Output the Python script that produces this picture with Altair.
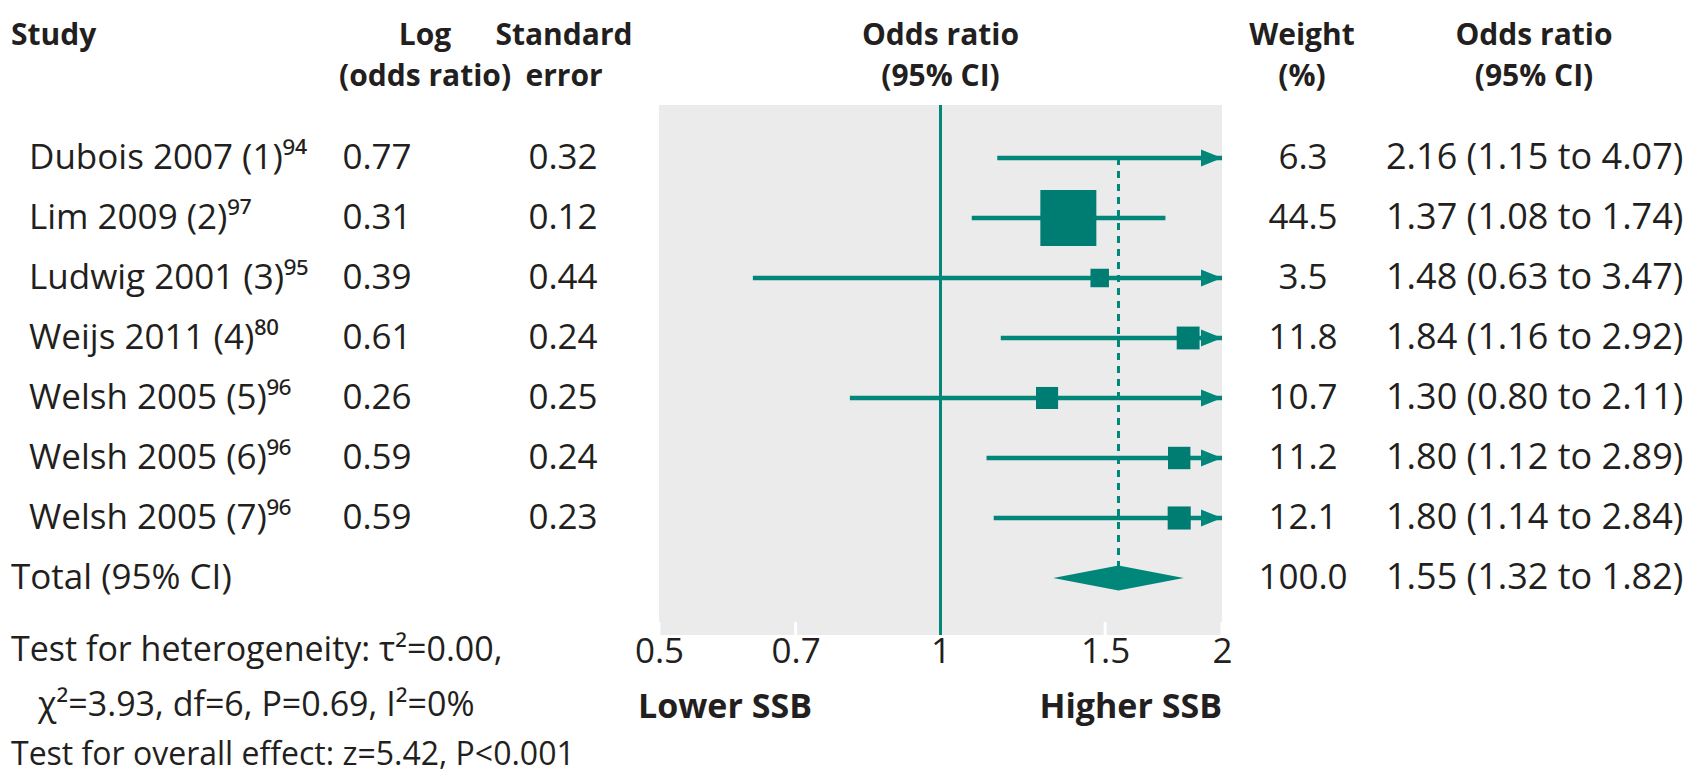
import altair as alt
import pandas as pd

# ---------------- data ----------------
studies = ["Dubois 2007 (1)\u2079\u2074", "Lim 2009 (2)\u2079\u2077", "Ludwig 2001 (3)\u2079\u2075",
           "Weijs 2011 (4)\u2078\u2070", "Welsh 2005 (5)\u2079\u2076", "Welsh 2005 (6)\u2079\u2076",
           "Welsh 2005 (7)\u2079\u2076"]
log_or = [0.77, 0.31, 0.39, 0.61, 0.26, 0.59, 0.59]
std_err = [0.32, 0.12, 0.44, 0.24, 0.25, 0.24, 0.23]
weight = [6.3, 44.5, 3.5, 11.8, 10.7, 11.2, 12.1]
or_est = [2.16, 1.37, 1.48, 1.84, 1.30, 1.80, 1.80]
ci_low = [1.15, 1.08, 0.63, 1.16, 0.80, 1.12, 1.14]
ci_high = [4.07, 1.74, 3.47, 2.92, 2.11, 2.89, 2.84]

total_label = ["Total (95% CI)"]
total_weight = [100.0]
total_est = [1.55]
total_low = [1.32]
total_high = [1.82]

tick_values = [0.5, 0.7, 1, 1.5, 2]
null_value = [1.0]

header_top = ["Study", "Log", "Standard", "Odds ratio", "Weight", "Odds ratio"]
header_bottom = ["", "(odds ratio)", "error", "(95% CI)", "(%)", "(95% CI)"]
footer_lines = ["Test for heterogeneity: \u03c4\u00b2=0.00,",
                "\u03c7\u00b2=3.93, df=6, P=0.69, I\u00b2=0%",
                "Test for overall effect: z=5.42, P<0.001"]
favours = ["Lower SSB", "Higher SSB"]

# ---------------- styling ----------------
FONT = "Open Sans"
TEAL = "#00877a"
SQUARE = "#007d72"
TEXT = "#231f20"
FS = 35
HFS = 30
W, H = 563, 530

n = len(studies)
xmin, xmax = tick_values[0], tick_values[-1]

df = pd.DataFrame({"row": list(range(n)), "study": studies, "log_or": log_or, "se": std_err,
                   "weight": weight, "est": or_est, "lo": ci_low, "hi": ci_high})
df["log_txt"] = df["log_or"].map(lambda v: f"{v:.2f}")
df["se_txt"] = df["se"].map(lambda v: f"{v:.2f}")
df["w_txt"] = df["weight"].map(lambda v: f"{v:.1f}")
df["or_txt"] = [f"{e:.2f} ({l:.2f} to {h:.2f})" for e, l, h in zip(or_est, ci_low, ci_high)]

tot = pd.DataFrame({"row": [n], "study": total_label, "weight": total_weight,
                    "est": total_est, "lo": total_low, "hi": total_high})
tot["w_txt"] = tot["weight"].map(lambda v: f"{v:.1f}")
tot["or_txt"] = [f"{e:.2f} ({l:.2f} to {h:.2f})" for e, l, h in zip(total_est, total_low, total_high)]

half_h = 0.21
diamond = pd.DataFrame({"x": [total_low[0], total_est[0], total_high[0]],
                        "y": [n, n - half_h, n], "y2": [n, n + half_h, n]})
pooled = pd.DataFrame({"est": total_est, "r0": [0], "r1": [n]})

xaxis = alt.Axis(values=tick_values, format="~g", title=None, ticks=False, domain=False, grid=False,
                 labelFontSize=FS, labelFont=FONT, labelColor=TEXT, labelFlush=False,
                 labelPadding=-1, labelOverlap=False, labelBound=False)
xscale = alt.Scale(type="log", domain=[xmin, xmax], nice=False)
yscale = alt.Scale(domain=[-0.883, 7.95], reverse=True, nice=False, zero=False)


def X(field):
    return alt.X(field, scale=xscale, axis=xaxis)


def Y(field):
    return alt.Y(field, scale=yscale, axis=None)


layers = []

# white tick marks inside panel bottom
layers.append(alt.Chart(pd.DataFrame({"t": tick_values})).mark_rule(color="white", strokeWidth=3)
              .encode(x=X("t:Q"), y=alt.value(H - 13), y2=alt.value(H)))
# line of no effect
layers.append(alt.Chart(pd.DataFrame({"x": null_value})).mark_rule(color=TEAL, strokeWidth=3)
              .encode(x=X("x:Q")))
# pooled dashed line
layers.append(alt.Chart(pooled).mark_rule(color=TEAL, strokeWidth=3, strokeDash=[7, 6])
              .encode(x=X("est:Q"), y=Y("r0:Q"), y2="r1:Q"))
# CI lines
layers.append(alt.Chart(df).transform_calculate(lo_c=f"max(datum.lo, {xmin})", hi_c=f"min(datum.hi, {xmax})")
              .mark_rule(color=TEAL, strokeWidth=4.5)
              .encode(x=X("lo_c:Q"), x2="hi_c:Q", y=Y("row:Q")))
# arrowheads for truncated CIs
layers.append(alt.Chart(df).transform_filter(f"datum.hi > {xmax}").transform_calculate(tip=f"{xmax}")
              .mark_point(shape="M0,0 L-2,-0.8 L-2,0.8 Z", filled=True, opacity=1, size=441,
                          color=TEAL, strokeWidth=0)
              .encode(x=X("tip:Q"), y=Y("row:Q")))
# squares
layers.append(alt.Chart(df).transform_filter(f"datum.est <= {xmax}")
              .mark_square(color=SQUARE, opacity=1)
              .encode(x=X("est:Q"), y=Y("row:Q"),
                      size=alt.Size("weight:Q", legend=None,
                                    scale=alt.Scale(type="pow", exponent=2, domain=[0, max(weight)],
                                                    range=[325, 3136]))))
# diamond
layers.append(alt.Chart(diamond).mark_area(color=TEAL, opacity=1, orient="vertical")
              .encode(x=X("x:Q"), y=Y("y:Q"), y2="y2:Q"))


def col_text(data, field, x, align, size=FS):
    return (alt.Chart(data).mark_text(align=align, baseline="middle", font=FONT, fontSize=size, color=TEXT)
            .encode(text=f"{field}:N", x=alt.value(x), y=Y("row:Q")))


layers += [
    col_text(df, "study", -630, "left"),
    col_text(df, "log_txt", -282, "center"),
    col_text(df, "se_txt", -96, "center"),
    col_text(df, "w_txt", 644, "center"),
    col_text(df, "or_txt", 727, "left", size=36),
    col_text(tot, "study", -648, "left"),
    col_text(tot, "w_txt", 644, "center"),
    col_text(tot, "or_txt", 727, "left", size=36),
]


def free_text(t, x, y, align, bold=False, size=FS):
    return (alt.Chart(pd.DataFrame({"t": [t]}))
            .mark_text(align=align, baseline="middle", font=FONT, fontSize=size,
                       fontWeight="bold" if bold else "normal", color=TEXT)
            .encode(text="t:N", x=alt.value(x), y=alt.value(y)))


header_x = [-648, -234, -95, W / 2, 643, 875]
header_align = ["left", "center", "center", "center", "center", "center"]
for t1, t2, hx, ha in zip(header_top, header_bottom, header_x, header_align):
    layers.append(free_text(t1, hx, -69, ha, bold=True, size=HFS))
    if t2:
        layers.append(free_text(t2, hx, -28, ha, bold=True, size=HFS))

layers.append(free_text(favours[0], -21, 603, "left", bold=True, size=34))
layers.append(free_text(favours[1], W, 603, "right", bold=True, size=34))

layers.append(free_text(footer_lines[0], -648, 546, "left", size=34))
layers.append(free_text(footer_lines[1], -621, 601, "left", size=34))
layers.append(free_text(footer_lines[2], -648, 650, "left", size=32))

chart = (alt.layer(*layers)
         .properties(width=W, height=H, autosize=alt.AutoSizeParams(type="none"),
                     background="white",
                     padding={"left": 651, "top": 97, "right": 465, "bottom": 138})
         .configure_view(fill="#ebebeb", strokeWidth=0))

chart.save("out.html", embed_options={"renderer": "svg", "actions": False})
